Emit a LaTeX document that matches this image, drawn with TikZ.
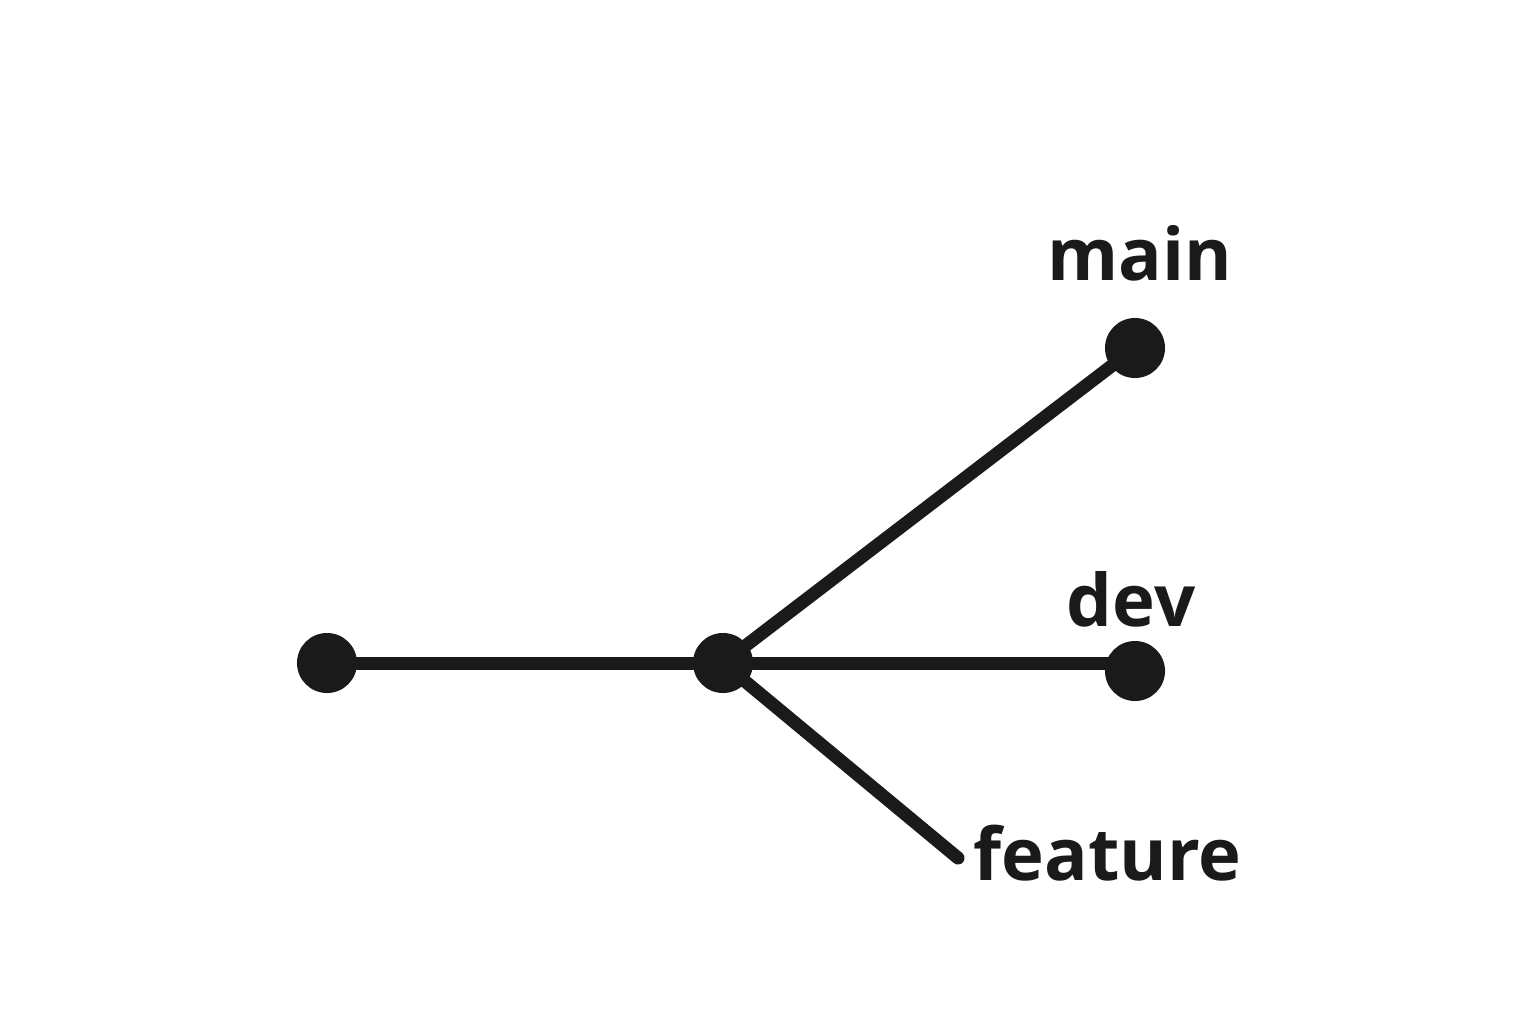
\documentclass[tikz,border=0pt]{standalone}
\usepackage{fontspec}
\setmainfont{Open Sans}[BoldFont={Open Sans Bold}]
\definecolor{ink}{HTML}{1A1A1A}
\begin{document}
\begin{tikzpicture}[x=0.01cm,y=-0.01cm,
  dot/.style={circle,fill=ink,inner sep=0pt,minimum size=0.6cm},
  branch/.style={draw=ink,line width=0.13cm,line cap=round},
  lbl/.style={text=ink,font=\fontsize{20.6}{24}\selectfont\bfseries,inner sep=0pt}]
\useasboundingbox (0,0) rectangle (1536,1024);
\node[dot] (root) at (327,663) {};
\node[dot] (mid) at (723,663) {};
\node[dot] (main) at (1135,348) {};
\node[dot] (dev) at (1135,671) {};
\coordinate (feat) at (958,858);
\draw[branch] (root) -- (mid);
\draw[branch] (mid.center) -- (main.center);
\draw[branch] (mid.center) -- (mid.center -| dev.center);
\draw[branch] (mid.center) -- (feat);
\node[lbl,anchor=base] (lmain) at (1140,280) {main};
\node[lbl,anchor=base] (ldev) at (1131,626) {dev};
\node[lbl,anchor=base west] (lfeat) at (973,880) {feature};
\end{tikzpicture}
\end{document}
